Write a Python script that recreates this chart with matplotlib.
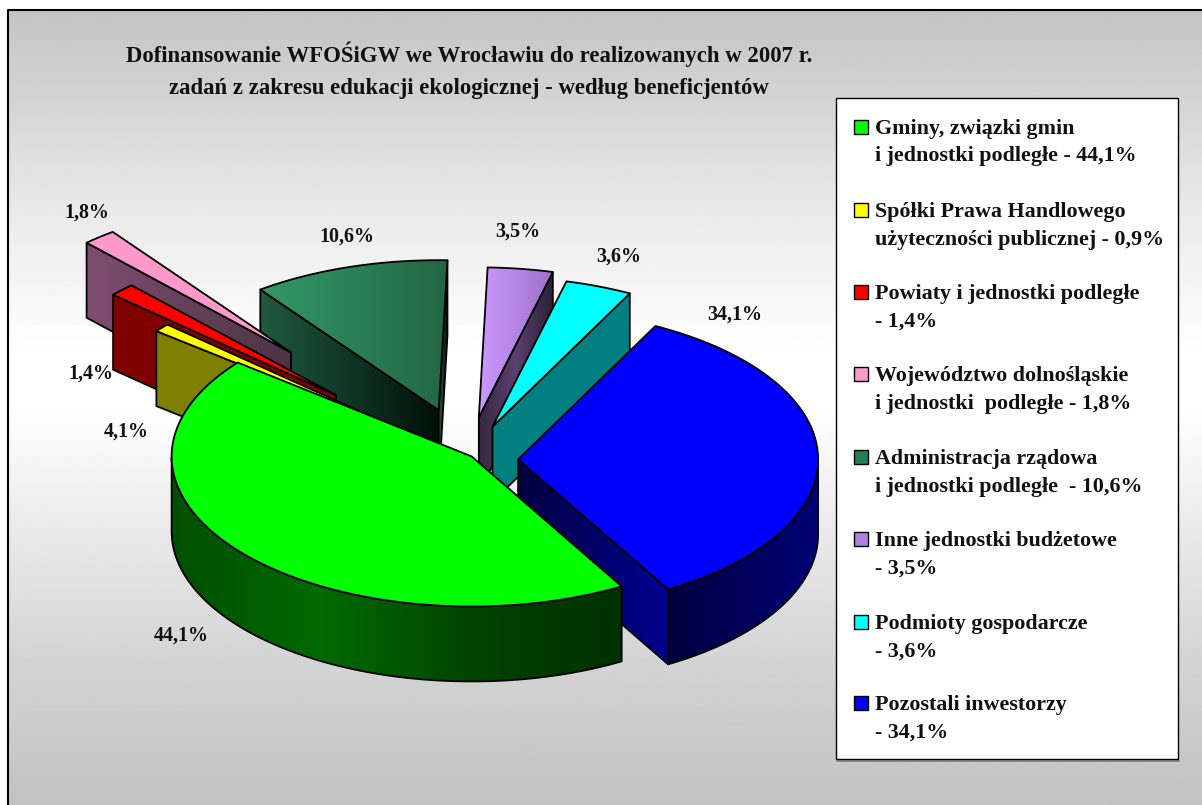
import matplotlib as mpl
mpl.use('Agg')
import numpy as np
import matplotlib.pyplot as plt
from matplotlib.colors import to_rgb
from matplotlib.patches import Polygon, Rectangle

plt.rcParams['font.family'] = ['Liberation Serif', 'DejaVu Serif']
plt.rcParams['font.weight'] = 'bold'

# shares, clockwise from the green slice
names = ['Gminy', 'Spolki', 'Powiaty', 'Wojewodztwo', 'Administracja', 'Inne', 'Podmioty', 'Pozostali']
values = [44.1, 0.9, 1.4, 1.8, 10.6, 3.5, 3.6, 34.1]

legend_lines = [
    ['Gminy, związki gmin', 'i jednostki podległe - 44,1%'],
    ['Spółki Prawa Handlowego', 'użyteczności publicznej - 0,9%'],
    ['Powiaty i jednostki podległe', '- 1,4%'],
    ['Województwo dolnośląskie', 'i jednostki  podległe - 1,8%'],
    ['Administracja rządowa', 'i jednostki podległe  - 10,6%'],
    ['Inne jednostki budżetowe', '- 3,5%'],
    ['Podmioty gospodarcze', '- 3,6%'],
    ['Pozostali inwestorzy', '- 34,1%'],
]
# labels as printed on the chart (the yellow one really says 4,1%)
slice_labels = ['44,1%', '4,1%', '1,4%', '1,8%', '10,6%', '3,5%', '3,6%', '34,1%']
label_pos = [(181, 636), (126, 432), (91, 374), (87, 213), (347, 237), (518, 232), (619, 257), (735, 315)]

title_lines = ['Dofinansowanie WFOŚiGW we Wrocławiu do realizowanych w 2007 r.',
               'zadań z zakresu edukacji ekologicznej - według beneficjentów']

# per slice pull-out and small vertical nudge
explode = [-0.016, 0.34, 0.617, 0.923, 0.327, 0.26, 0.23, 0.167]
nudge = [3, 3, 5, 4, 2, 1, 4, 5]
draw_order = [4, 5, 6, 7, 3, 2, 1, 0]

top_stops = [['#00ff00'], ['#ffff00'], ['#ff0000'], ['#ff99cc'],
             ['#339966', '#226644'], ['#cc99ff', '#a070cc'], ['#00ffff'], ['#0000ff']]
wall_stops = [['#005f00'], ['#808000'], ['#800000'],
              ['#804d70', '#4a3444'], ['#1f5a3e', '#00100a'], ['#35283f', '#5a4070', '#2a2035'],
              ['#008080'], ['#000040', '#000090']]
outer_stops = [['#004f00', '#006a00', '#004400', '#003000'], None, None, None, None, None, None,
               ['#000040', '#000075']]
swatches = ['#00ff00', '#ffff00', '#ff0000', '#ff99cc', '#228058', '#b080e0', '#00ffff', '#0000ff']

cx, cy = 468, 455
rx, ry = 300, 150
depth = 75
start = -60.0  # angle of the blue/green edge

fig = plt.figure(figsize=(12.02, 8.05), dpi=100)
ax = fig.add_axes([0, 0, 1, 1])
ax.set_xlim(0, 1202)
ax.set_ylim(805, 0)
ax.set_autoscale_on(False)
ax.axis('off')

zcount = [1]


def next_z():
    zcount[0] += 1
    return zcount[0]


def grad_poly(verts, stops):
    verts = np.array(verts)
    z = next_z()
    x0, x1 = verts[:, 0].min(), verts[:, 0].max()
    y0, y1 = verts[:, 1].min(), verts[:, 1].max()
    cols = np.array([to_rgb(c) for c in stops])
    if len(stops) == 1:
        cols = np.vstack([cols, cols])
    t = np.linspace(0, 1, 256)
    pos = np.linspace(0, 1, len(cols))
    img = np.stack([np.interp(t, pos, cols[:, i]) for i in range(3)], axis=1)[None, :, :]
    im = ax.imshow(img, extent=(x0, x1, y1, y0), aspect='auto', zorder=z, interpolation='bilinear')
    clip = Polygon(verts, closed=True, transform=ax.transData)
    im.set_clip_path(clip)
    ax.add_patch(Polygon(verts, closed=True, fc='none', ec='black', lw=1.3, zorder=z, joinstyle='round'))


def pt(ang, ox, oy):
    a = np.radians(ang)
    return ox + rx * np.cos(a), oy - ry * np.sin(a)


# background
bg = np.array([0.77, 0.84, 0.92, 1.0, 1.0, 0.92, 0.83, 0.76])
yy = np.array([0.0, 0.13, 0.26, 0.43, 0.5, 0.65, 0.82, 1.0])
t = np.linspace(0, 1, 400)
ax.imshow(np.interp(t, yy, bg)[:, None], cmap='gray', vmin=0, vmax=1, extent=(8, 1202, 805, 10),
          aspect='auto', zorder=0)
ax.plot([8, 8, 1202], [805, 10, 10], color='black', lw=1.5, zorder=1)

# slice angle spans, going clockwise
spans = 360 * np.array(values) / np.sum(values)
ends = start - np.cumsum(spans)
begins = ends + spans

for i in draw_order:
    a1 = begins[i]
    a0 = ends[i]
    mid = np.radians((a0 + a1) / 2)
    ox = cx + explode[i] * rx * np.cos(mid)
    oy = cy - explode[i] * ry * np.sin(mid) + nudge[i]
    # radial walls that face the viewer
    for edge, test in ((a1, np.cos(np.radians(a1)) < 0), (a0, np.cos(np.radians(a0)) > 0)):
        if test:
            p = pt(edge, ox, oy)
            grad_poly([(ox, oy), p, (p[0], p[1] + depth), (ox, oy + depth)], wall_stops[i])
    # outer curved wall, only the lower half of the ellipse shows
    angs = np.linspace(a0, a1, 200)
    angs = angs[np.sin(np.radians(angs)) < 0]
    if len(angs) > 1 and outer_stops[i] is not None:
        upper = [pt(a, ox, oy) for a in angs]
        lower = [(x, y + depth) for x, y in upper[::-1]]
        grad_poly(upper + lower, outer_stops[i])
    # top face
    arc = [pt(a, ox, oy) for a in np.linspace(a0, a1, 200)]
    grad_poly([(ox, oy)] + arc, top_stops[i])

# title
for line, y in zip(title_lines, [62, 94]):
    ax.text(469, y, line, ha='center', va='baseline', fontsize=16.4, color='#111111', zorder=200)

# slice labels
for lab, (x, y) in zip(slice_labels, label_pos):
    ax.text(x, y, lab, ha='center', va='center', fontsize=14.4, color='#111111', zorder=200)

# legend box
ax.plot([837, 1179], [760.5, 760.5], color='#808080', lw=1.2, zorder=149)
ax.add_patch(Rectangle((836, 98), 342, 661, fc='white', ec='black', lw=1.0, zorder=150))
legend_y = [134, 217, 299, 381, 464, 546, 629, 710]
for lines, col, y in zip(legend_lines, swatches, legend_y):
    ax.add_patch(Rectangle((854, y - 14), 14, 14, fc=col, ec='black', lw=1.0, zorder=160))
    ax.text(875, y, lines[0], ha='left', va='baseline', fontsize=15.8, color='#111111', zorder=170)
    ax.text(875, y + 27.5, lines[1], ha='left', va='baseline', fontsize=15.8, color='#111111', zorder=170)

fig.savefig('out.png', dpi=100)
